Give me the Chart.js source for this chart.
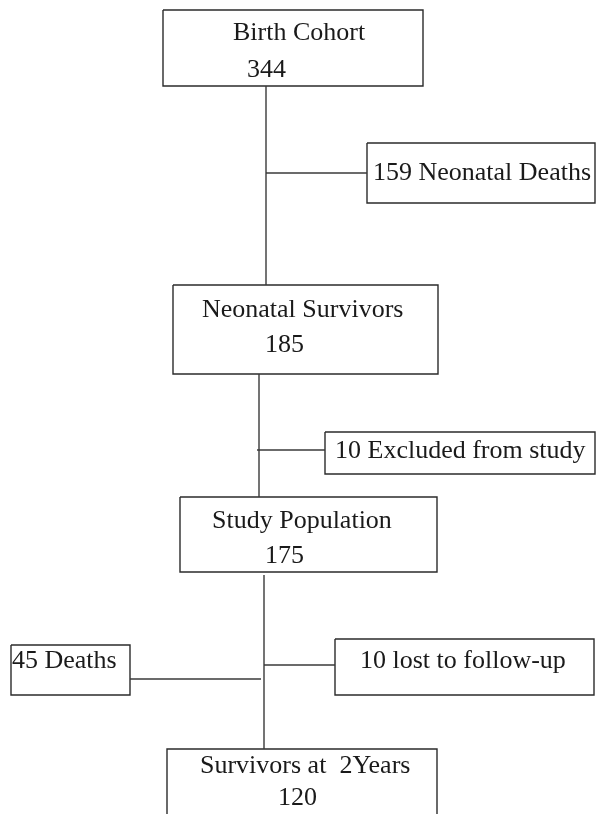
<!DOCTYPE html>
<html>
<head>
<meta charset="utf-8">
<script src="https://cdn.jsdelivr.net/npm/chart.js@4/dist/chart.umd.min.js"></script>
<style>
  html, body { margin: 0; padding: 0; background: #fff; }
  canvas { display: block; }
</style>
</head>
<body>
<canvas id="flow" width="597" height="814"></canvas>
<script>
// main flow stages and their counts
const stages = ["Birth Cohort", "Neonatal Survivors", "Study Population", "Survivors at  2Years"];
const stageCounts = [344, 185, 175, 120];
// exits from the flow
const exits = ["Neonatal Deaths", "Excluded from study", "Deaths", "lost to follow-up"];
const exitCounts = [159, 10, 45, 10];

// layout (page units = px), kept apart from the data
const stageBoxes = [
  { x1: 163, y1: 10, x2: 423, y2: 86, tx: 233, ty: 40, nx: 247, ny: 77 },
  { x1: 173, y1: 285, x2: 438, y2: 374, tx: 202, ty: 317, nx: 265, ny: 352 },
  { x1: 180, y1: 497, x2: 437, y2: 572, tx: 212, ty: 528, nx: 265, ny: 563 },
  { x1: 167, y1: 749, x2: 437, y2: 814, tx: 200, ty: 773, nx: 278, ny: 805, open: true }
];
const exitBoxes = [
  { x1: 367, y1: 143, x2: 595, y2: 203, tx: 373, ty: 180 },
  { x1: 325, y1: 432, x2: 595, y2: 474, tx: 335, ty: 458 },
  { x1: 11, y1: 645, x2: 130, y2: 695, tx: 12, ty: 668 },
  { x1: 335, y1: 639, x2: 594, y2: 695, tx: 360, ty: 668 }
];
const connectors = [
  [[266, 86], [266, 285]],
  [[266, 173], [367, 173]],
  [[265, 374], [259, 374], [259, 497]],
  [[257, 450], [325, 450]],
  [[264, 575], [264, 749]],
  [[264, 665], [335, 665]],
  [[130, 679], [261, 679]]
];

const FONT = "26px 'Liberation Serif', 'Times New Roman', serif";

function rectPoints(b) {
  if (b.open) {
    return [{ x: b.x1, y: b.y2 }, { x: b.x1, y: b.y1 }, { x: b.x2, y: b.y1 }, { x: b.x2, y: b.y2 }];
  }
  return [
    { x: b.x1, y: b.y1 }, { x: b.x2, y: b.y1 }, { x: b.x2, y: b.y2 },
    { x: b.x1, y: b.y2 }, { x: b.x1, y: b.y1 }
  ];
}

const datasets = [];
connectors.forEach(seg => {
  datasets.push({
    data: seg.slice(-2).map(p => ({ x: p[0], y: p[1] })),
    borderColor: "#3a3a3a",
    borderWidth: 1.4
  });
});
stageBoxes.concat(exitBoxes).forEach(b => {
  datasets.push({
    data: rectPoints(b),
    borderColor: "#2b2b2b",
    borderWidth: 1.4
  });
});

const labelPlugin = {
  id: "flowLabels",
  afterDatasetsDraw(chart) {
    const ctx = chart.ctx;
    const xs = chart.scales.x, ys = chart.scales.y;
    ctx.save();
    ctx.font = FONT;
    ctx.fillStyle = "#1a1a1a";
    ctx.textBaseline = "alphabetic";
    ctx.textAlign = "left";
    stages.forEach((name, i) => {
      const b = stageBoxes[i];
      ctx.fillText(name, xs.getPixelForValue(b.tx), ys.getPixelForValue(b.ty));
      ctx.fillText(String(stageCounts[i]), xs.getPixelForValue(b.nx), ys.getPixelForValue(b.ny));
    });
    exits.forEach((name, i) => {
      const b = exitBoxes[i];
      ctx.fillText(exitCounts[i] + " " + name, xs.getPixelForValue(b.tx), ys.getPixelForValue(b.ty));
    });
    ctx.restore();
  }
};

new Chart(document.getElementById("flow").getContext("2d"), {
  type: "scatter",
  data: { datasets: datasets },
  options: {
    responsive: false,
    animation: false,
    showLine: true,
    clip: false,
    layout: { padding: 0 },
    elements: { point: { radius: 0, hoverRadius: 0 }, line: { tension: 0, fill: false } },
    plugins: { legend: { display: false }, tooltip: { enabled: false } },
    scales: {
      x: { type: "linear", min: 0, max: 597, display: false },
      y: { type: "linear", min: 0, max: 814, reverse: true, display: false }
    }
  },
  plugins: [labelPlugin]
});
</script>
</body>
</html>
